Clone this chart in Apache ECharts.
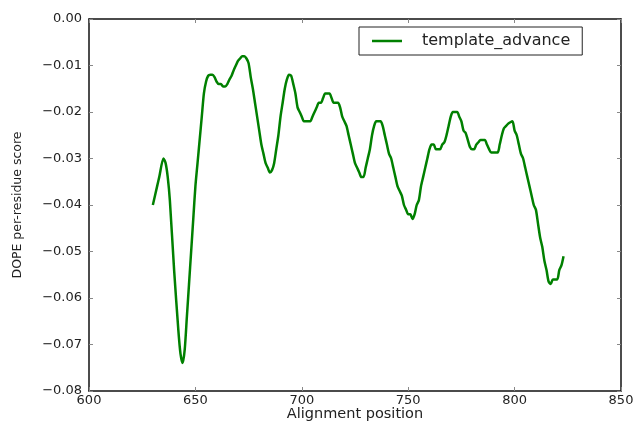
<!DOCTYPE html>
<html>
<head>
<meta charset="utf-8">
<script src="https://cdn.jsdelivr.net/npm/echarts@6/dist/echarts.min.js"></script>
<style>
html,body{margin:0;padding:0;background:#fff;}
#chart{width:633px;height:421px;}
</style>
</head>
<body>
<div id="chart"></div>
<script>
const seriesName = 'template_advance';
const xTitle = 'Alignment position';
const yTitle = 'DOPE per-residue score';
const xTicks = [600, 650, 700, 750, 800, 850];
const yTicks = [0, -0.01, -0.02, -0.03, -0.04, -0.05, -0.06, -0.07, -0.08];
const positions = [
  630, 632, 633, 635, 636, 637, 638, 640, 642, 643, 644, 645, 646, 647, 648, 649, 650,
  651, 652, 653, 654, 655, 656, 657, 658, 659, 660, 661, 662, 663, 664, 665, 666, 667,
  668, 669, 670, 671, 672, 673, 674, 675, 676, 677, 678, 679, 680, 681, 682, 683, 684,
  685, 686, 687, 688, 689, 690, 691, 692, 693, 694, 695, 696, 697, 698, 699, 700, 701,
  703, 704, 705, 706, 707, 708, 709, 710, 711, 713, 714, 715, 717, 718, 719, 720, 721,
  722, 723, 724, 725, 726, 727, 728, 729, 730, 731, 732, 733, 734, 735, 737, 738, 739,
  740, 741, 742, 743, 744, 745, 746, 747, 748, 749, 750, 751, 752, 753, 754, 755, 756,
  757, 758, 759, 760, 761, 762, 763, 764, 765, 766, 767, 768, 769, 770, 771, 773, 774,
  775, 776, 777, 778, 779, 780, 781, 782, 783, 784, 786, 787, 788, 789, 792, 793, 794,
  795, 796, 797, 798, 799, 800, 801, 802, 803, 804, 805, 806, 807, 808, 809, 810, 811,
  812, 813, 814, 815, 816, 817, 818, 820, 821, 822, 823
];
const scores = [
  -0.040, -0.036, -0.034, -0.030, -0.031, -0.034, -0.039, -0.054, -0.067, -0.072, -0.074, -0.071, -0.064, -0.057, -0.050, -0.043, -0.036,
  -0.031, -0.026, -0.021, -0.016, -0.0135, -0.0122, -0.012, -0.012, -0.0125, -0.0135, -0.014, -0.014, -0.0145, -0.0145, -0.014, -0.013, -0.0122,
  -0.011, -0.010, -0.009, -0.0085, -0.008, -0.008, -0.0085, -0.0095, -0.0125, -0.015, -0.018, -0.021, -0.024, -0.027, -0.029, -0.031, -0.032,
  -0.033, -0.0325, -0.031, -0.028, -0.025, -0.021, -0.018, -0.015, -0.013, -0.012, -0.0122, -0.014, -0.016, -0.019, -0.020, -0.021, -0.022,
  -0.022, -0.022, -0.021, -0.020, -0.019, -0.018, -0.018, -0.017, -0.016, -0.016, -0.017, -0.018, -0.018, -0.019, -0.021, -0.022, -0.023,
  -0.025, -0.027, -0.029, -0.031, -0.032, -0.033, -0.034, -0.034, -0.032, -0.030, -0.028, -0.025, -0.023, -0.022, -0.022, -0.023, -0.025,
  -0.027, -0.029, -0.030, -0.032, -0.034, -0.036, -0.037, -0.038, -0.040, -0.041, -0.042, -0.042, -0.043, -0.042, -0.040, -0.039, -0.036,
  -0.034, -0.032, -0.030, -0.028, -0.027, -0.027, -0.028, -0.028, -0.028, -0.027, -0.0265, -0.025, -0.023, -0.021, -0.020, -0.020, -0.021,
  -0.022, -0.024, -0.0245, -0.026, -0.0275, -0.028, -0.028, -0.027, -0.0265, -0.026, -0.026, -0.027, -0.028, -0.0287, -0.0287, -0.027, -0.025,
  -0.0235, -0.023, -0.0225, -0.0222, -0.022, -0.024, -0.025, -0.027, -0.029, -0.030, -0.032, -0.034, -0.036, -0.038, -0.040, -0.041, -0.044,
  -0.047, -0.049, -0.052, -0.054, -0.0565, -0.057, -0.056, -0.056, -0.054, -0.053, -0.051
];

const data = positions.map((p, i) => [p, scores[i]]);
const font = 'DejaVu Sans';
const textColor = '#222';
const fmtY = v => (Math.abs(v) < 1e-9 ? '0.00' : (v < 0 ? '\u2212' : '') + Math.abs(v).toFixed(2));

const chart = echarts.init(document.getElementById('chart'), null, {renderer: 'canvas'});
const frameAxisLine = {show: true, onZero: false, lineStyle: {color: '#111', width: 1.5}};
const innerTick = {show: true, inside: true, length: 4, lineStyle: {color: '#888', width: 1}};
chart.setOption({
  animation: false,
  backgroundColor: '#fff',
  grid: {left: 89, right: 12, top: 19, bottom: 30, containLabel: false, outerBoundsMode: 'none'},
  legend: {
    show: true,
    data: [{name: seriesName, icon: 'rect'}],
    left: 359,
    top: 27,
    orient: 'horizontal',
    itemWidth: 30,
    itemHeight: 2.5,
    padding: [6, 12, 6, 13],
    borderColor: '#222',
    borderWidth: 1,
    borderRadius: 0,
    itemStyle: {color: '#008000'},
    textStyle: {fontFamily: font, fontSize: 16, color: textColor, padding: [0, 0, 0, 15]}
  },
  xAxis: [{
    type: 'value',
    min: xTicks[0],
    max: xTicks[xTicks.length - 1],
    interval: 50,
    name: xTitle,
    nameLocation: 'middle',
    nameGap: 16,
    nameMoveOverlap: false,
    nameTextStyle: {fontFamily: font, fontSize: 14.5, color: textColor, verticalAlign: 'top'},
    axisLine: frameAxisLine,
    axisTick: innerTick,
    splitLine: {show: false},
    axisLabel: {fontFamily: font, fontSize: 13, color: textColor, margin: 3, showMinLabel: true, showMaxLabel: true}
  }, {
    type: 'value',
    position: 'top',
    min: xTicks[0],
    max: xTicks[xTicks.length - 1],
    interval: 50,
    axisLine: frameAxisLine,
    axisTick: innerTick,
    splitLine: {show: false},
    axisLabel: {show: false}
  }],
  yAxis: [{
    type: 'value',
    min: yTicks[yTicks.length - 1],
    max: yTicks[0],
    interval: 0.01,
    name: yTitle,
    nameLocation: 'middle',
    nameGap: 65,
    nameRotate: 90,
    nameMoveOverlap: false,
    nameTextStyle: {fontFamily: font, fontSize: 12.5, color: textColor},
    axisLine: frameAxisLine,
    axisTick: innerTick,
    splitLine: {show: false},
    axisLabel: {fontFamily: font, fontSize: 13, color: textColor, margin: 7, formatter: fmtY, showMinLabel: true, showMaxLabel: true}
  }, {
    type: 'value',
    position: 'right',
    min: yTicks[yTicks.length - 1],
    max: yTicks[0],
    interval: 0.01,
    axisLine: frameAxisLine,
    axisTick: innerTick,
    splitLine: {show: false},
    axisLabel: {show: false}
  }],
  series: [{
    name: seriesName,
    type: 'line',
    xAxisIndex: 0,
    yAxisIndex: 0,
    data: data,
    symbol: 'none',
    showSymbol: false,
    smooth: 0.25,
    lineStyle: {color: '#008000', width: 2.5},
    itemStyle: {color: '#008000'}
  }]
});
</script>
</body>
</html>
